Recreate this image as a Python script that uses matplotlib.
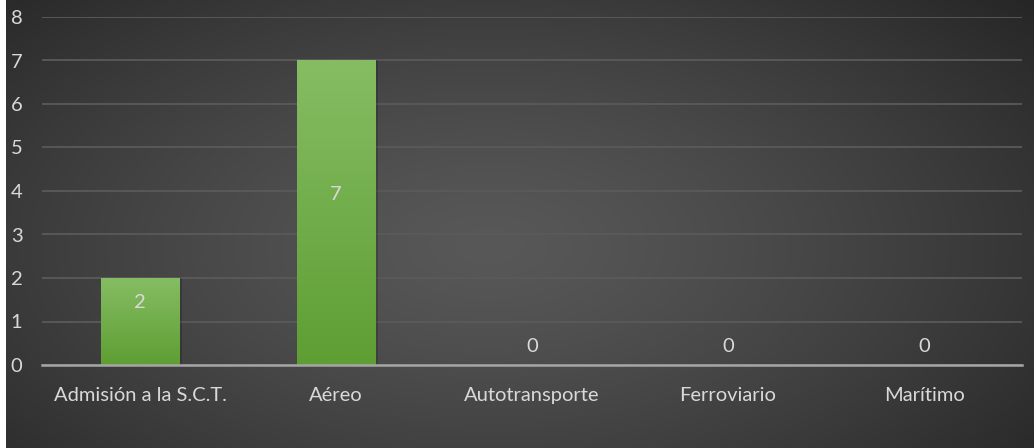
import numpy as np
import matplotlib
matplotlib.use("Agg")
import matplotlib.pyplot as plt

categories = ["Admisión a la S.C.T.", "Aéreo", "Autotransporte", "Ferroviario", "Marítimo"]
values = [2, 7, 0, 0, 0]
yticks = [0, 1, 2, 3, 4, 5, 6, 7, 8]

W, H = 1034, 448
fig = plt.figure(figsize=(W / 100, H / 100), dpi=100, facecolor="white")
plt.rcParams['font.family'] = ['Lato', 'DejaVu Sans']

# background radial gradient
bg = fig.add_axes([6 / W, 0, 1 - 6 / W, 1])
bg.set_axis_off()
yy, xx = np.mgrid[0:1:300j, 0:1:700j]
r = np.sqrt(((xx - 0.47) / 0.75) ** 2 + ((yy - 0.45) / 0.9) ** 2)
r = np.clip(r, 0, 1)
c = 0.345 - (0.345 - 0.13) * r ** 1.3
img = np.dstack([c, c, c])
bg.imshow(img, extent=[0, 1, 0, 1], aspect="auto", origin="lower")
bg.set_xlim(0, 1)
bg.set_ylim(0, 1)

ax = fig.add_axes([42 / W, (H - 365) / H, (1022 - 42) / W, (365 - 17) / H])
ax.patch.set_alpha(0)
x = np.arange(len(categories))
bars = ax.bar(x, values, width=0.4, color="#70AD47", zorder=3)

# gradient fill in bars
grad = np.linspace(0, 1, 256).reshape(-1, 1)
top = np.array([0x86, 0xBD, 0x64]) / 255
bot = np.array([0x5E, 0x9E, 0x33]) / 255
gimg = bot + (top - bot) * grad[..., None]
for b, v in zip(bars, values):
    if v <= 0:
        continue
    b.set_facecolor("none")
    ax.bar(b.get_x() + b.get_width() / 2 + 0.012, v, width=b.get_width(), color="black", alpha=0.18, zorder=2)
    im = ax.imshow(gimg, extent=[b.get_x(), b.get_x() + b.get_width(), 0, v],
                   origin="lower", aspect="auto", zorder=3)
    im.set_clip_path(b)
ax.set_aspect("auto")
ax.set_xlim(-0.5, len(categories) - 0.5)
ax.set_ylim(0, 8)

for xi, v in zip(x, values):
    ax.annotate(str(v), (xi, v / 2), xytext=(0, 13.5), textcoords="offset points",
                ha="center", va="center", color="#D9D9D9", fontsize=14.5, zorder=5)

ax.set_yticks(yticks)
ax.set_xticks(x)
ax.set_xticklabels(categories)
ax.grid(axis="y", color="#5A5A5A", linewidth=1.3, zorder=1)
ax.tick_params(axis="both", length=0, colors="#D9D9D9", labelsize=14.5)
ax.tick_params(axis="x", pad=16)
ax.tick_params(axis="y", pad=22.5)
for lab in ax.get_yticklabels():
    lab.set_horizontalalignment("left")
for s in ["top", "right", "left"]:
    ax.spines[s].set_visible(False)
ax.spines["bottom"].set_color("#A6A6A6")
ax.spines["bottom"].set_linewidth(1.8)
ax.spines["bottom"].set_zorder(4)

fig.savefig("out.png", dpi=100, facecolor="white")
